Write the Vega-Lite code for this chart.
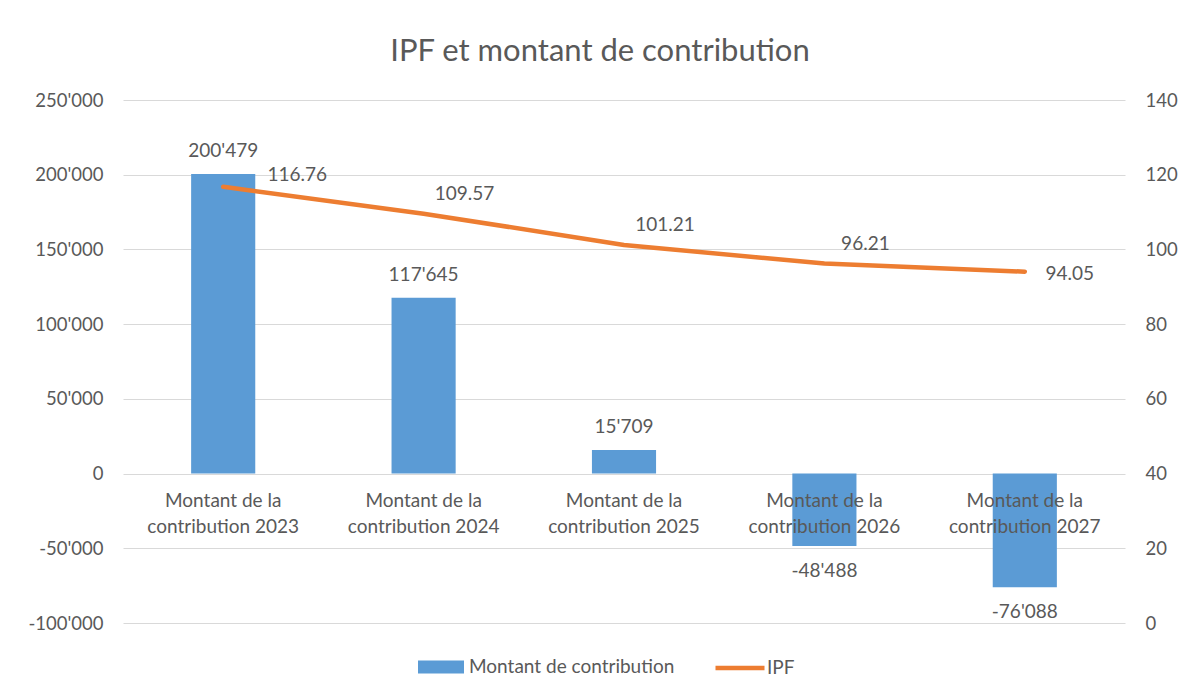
{
  "$schema": "https://vega.github.io/schema/vega-lite/v6.json",
  "width": 1002,
  "height": 523,
  "autosize": {"type": "none"},
  "padding": {"left": 123, "top": 100, "right": 55, "bottom": 72},
  "background": "white",
  "title": {
    "text": "IPF et montant de contribution",
    "font": "Lato",
    "fontSize": 31,
    "fontWeight": "normal",
    "color": "#595959",
    "anchor": "middle",
    "dx": -24,
    "offset": 23
  },
  "config": {
    "locale": {"number": {"decimal": ".", "thousands": "'", "grouping": [3], "currency": ["", ""], "minus": "-"}},
    "view": {"stroke": null},
    "font": "Lato",
    "axis": {"labelFont": "Lato", "labelFontSize": 18.5, "labelColor": "#595959", "gridColor": "#D9D9D9", "gridWidth": 1, "domain": false, "ticks": false, "title": null},
    "legend": {"labelFont": "Lato", "labelFontSize": 19, "labelColor": "#595959", "title": null, "labelLimit": 0, "padding": 0}
  },
  "data": {
    "values": [
      {"cat": "Montant de la contribution 2023", "year": 2023, "montant": 200479, "ipf": 116.76},
      {"cat": "Montant de la contribution 2024", "year": 2024, "montant": 117645, "ipf": 109.57},
      {"cat": "Montant de la contribution 2025", "year": 2025, "montant": 15709, "ipf": 101.21},
      {"cat": "Montant de la contribution 2026", "year": 2026, "montant": -48488, "ipf": 96.21},
      {"cat": "Montant de la contribution 2027", "year": 2027, "montant": -76088, "ipf": 94.05}
    ]
  },
  "encoding": {
    "x": {
      "field": "cat",
      "type": "nominal",
      "sort": null,
      "scale": {"paddingInner": 0.68, "paddingOuter": 0.34},
      "axis": {
        "orient": "bottom",
        "offset": -150,
        "labelAngle": 0,
        "labelPadding": 18,
        "labelFontSize": 19,
        "labelLineHeight": 26,
        "labelBaseline": "top",
        "labelExpr": "['Montant de la', replace(datum.label, 'Montant de la ', '')]",
        "zindex": 1,
        "grid": false
      }
    }
  },
  "layer": [
    {
      "layer": [
        {
          "mark": {"type": "bar", "color": "#5B9BD5"},
          "encoding": {
            "y": {
              "field": "montant",
              "type": "quantitative",
              "scale": {"domain": [-100000, 250000], "nice": false, "zero": false},
              "axis": {"orient": "left", "values": [-100000, -50000, 0, 50000, 100000, 150000, 200000, 250000], "format": ",d", "labelPadding": 20, "grid": true, "zindex": 0}
            },
            "fill": {
              "datum": "Montant de contribution",
              "scale": {"range": ["#5B9BD5"]},
              "legend": {"orient": "none", "legendX": 295, "legendY": 544, "symbolType": "M-1,-0.28H1V0.28H-1Z", "symbolSize": 2116, "symbolStrokeWidth": 0, "labelOffset": 5}
            }
          }
        },
        {
          "transform": [{"filter": "datum.montant >= 0"}],
          "mark": {"type": "text", "dy": -23, "baseline": "middle", "fontSize": 19, "color": "#595959", "font": "Lato"},
          "encoding": {
            "y": {"field": "montant", "type": "quantitative"},
            "text": {"field": "montant", "type": "quantitative", "format": ",d"}
          }
        },
        {
          "transform": [{"filter": "datum.montant < 0"}],
          "mark": {"type": "text", "dy": 25, "baseline": "middle", "fontSize": 19, "color": "#595959", "font": "Lato"},
          "encoding": {
            "y": {"field": "montant", "type": "quantitative"},
            "text": {"field": "montant", "type": "quantitative", "format": ",d"}
          }
        }
      ]
    },
    {
      "layer": [
        {
          "mark": {"type": "line", "strokeWidth": 4.5, "strokeCap": "round", "strokeJoin": "round"},
          "encoding": {
            "y": {
              "field": "ipf",
              "type": "quantitative",
              "scale": {"domain": [0, 140], "nice": false},
              "axis": {"orient": "right", "values": [0, 20, 40, 60, 80, 100, 120, 140], "labelPadding": 20, "grid": false}
            },
            "stroke": {
              "datum": "IPF",
              "scale": {"range": ["#ED7D31"]},
              "legend": {"orient": "none", "legendX": 590, "legendY": 541, "symbolType": "stroke", "symbolSize": 2401, "symbolStrokeWidth": 4.5, "labelOffset": 0}
            }
          }
        },
        {
          "transform": [{"filter": "datum.year == 2023"}],
          "mark": {"type": "text", "dx": 74, "dy": -12, "baseline": "middle", "fontSize": 19, "color": "#595959", "font": "Lato"},
          "encoding": {
            "y": {"field": "ipf", "type": "quantitative"},
            "text": {"field": "ipf", "type": "quantitative", "format": ".2f"}
          }
        },
        {
          "transform": [{"filter": "datum.year > 2023 && datum.year < 2027"}],
          "mark": {"type": "text", "dx": 41, "dy": -20, "baseline": "middle", "fontSize": 19, "color": "#595959", "font": "Lato"},
          "encoding": {
            "y": {"field": "ipf", "type": "quantitative"},
            "text": {"field": "ipf", "type": "quantitative", "format": ".2f"}
          }
        },
        {
          "transform": [{"filter": "datum.year == 2027"}],
          "mark": {"type": "text", "dx": 45, "dy": 2, "baseline": "middle", "fontSize": 19, "color": "#595959", "font": "Lato"},
          "encoding": {
            "y": {"field": "ipf", "type": "quantitative"},
            "text": {"field": "ipf", "type": "quantitative", "format": ".2f"}
          }
        }
      ]
    }
  ],
  "resolve": {"scale": {"y": "independent"}}
}
